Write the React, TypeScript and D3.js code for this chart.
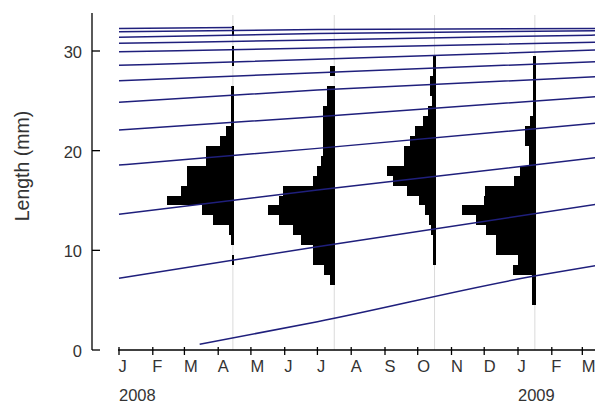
import React, { useRef, useEffect } from 'react';
import * as d3 from 'd3';

// axis labels
const monthLetters = ["J", "F", "M", "A", "M", "J", "J", "A", "S", "O", "N", "D", "J", "F", "M"];
const yearLabels = ["2008", "2009"];
const yearDates = ["2008-01-01", "2009-01-01"];
const yTicks = [0, 10, 20, 30];

// growth curves (mm), read at these dates
const curveDates = ["2008-01-01", "2008-07-01", "2009-03-13"];
const cohortLengths = [
    [31.94, 32.15, 32.27],
    [31.37, 31.75, 32.04],
    [30.77, 31.1, 31.6],
    [29.93, 30.3, 30.87],
    [28.56, 29.16, 30.1],
    [27.02, 27.82, 28.93],
    [24.85, 26.09, 27.42],
    [22.07, 23.41, 25.41],
    [18.56, 20.23, 22.75],
    [13.61, 16.05, 19.29],
    [7.2, 10.37, 14.6],
];
const oldCohortDates = ["2008-01-01", "2008-04-14"];
const oldCohortLengths = [32.27, 32.35];
const recruitDates = ["2008-03-15", "2008-07-01", "2009-01-16", "2009-03-13"];
const recruitLengths = [0.57, 2.84, 7.42, 8.46];

// length-frequency samples
const sampleDates = ["2008-04-14", "2008-07-16", "2008-10-16", "2009-01-16"];
const lengthBins = [5, 6, 7, 8, 9, 10, 11, 12, 13, 14, 15, 16, 17, 18, 19, 20, 21, 22, 23, 24, 25, 26, 27, 28, 29, 30, 31, 32];
const freqApr = [0, 0, 0, 0, 0.4, 0, 0.8, 1.4, 5.7, 8.8, 18.5, 14.6, 12.9, 12.9, 7.8, 7.8, 3.9, 2.2, 0.9, 0.7, 0.7, 0.7, 0, 0, 0.4, 0.4, 0, 0.4];
const freqJul = [0, 0, 1.6, 3.0, 6.2, 6.2, 9.6, 11.8, 15.5, 18.7, 15.5, 14.4, 6.2, 5.0, 4.1, 3.4, 3.4, 3.4, 3.4, 3.4, 2.2, 2.2, 0, 1.6, 0, 0, 0, 0];
const freqOct = [0, 0, 0, 0, 0.8, 0.8, 0.8, 1.3, 1.9, 3.0, 4.7, 7.8, 11.8, 13.4, 8.8, 8.8, 7.2, 5.6, 3.4, 2.2, 1.1, 1.6, 1.6, 0.7, 0.7, 0, 0, 0];
const freqJan = [1.0, 1.0, 1.0, 6.3, 5.0, 11.1, 11.1, 13.9, 16.5, 20.6, 14.4, 14.2, 6.0, 4.4, 1.9, 1.9, 3.1, 3.1, 1.7, 0.8, 0.7, 0.7, 0.7, 0.7, 0.7, 0, 0, 0];
const sampleFreqs = [freqApr, freqJul, freqOct, freqJan];

const App = () => {
    const svgref = useRef(null);
    const width = 595, height = 403;

    useEffect(() => {
        const svg = d3.select(svgref.current);
        svg.selectAll("*").remove();

        const parse = d3.utcParse("%Y-%m-%d");
        const x = d3.scaleUtc()
            .domain([parse("2008-01-01"), parse("2009-01-01")])
            .range([119, 518]);
        const y = d3.scaleLinear().domain([0, 30]).range([350, 51]);
        const w = d3.scaleLinear().domain([0, 10]).range([0, 36]);
        const font = "'Liberation Sans', Arial, sans-serif";
        const navy = "#1f1f7c";

        svg.append("rect").attr("width", width).attr("height", height).attr("fill", "#fff");

        // faint lines at the sampling dates
        svg.append("g").selectAll("line")
            .data(sampleDates)
            .join("line")
            .attr("x1", d => x(parse(d)) + 0.5)
            .attr("x2", d => x(parse(d)) + 0.5)
            .attr("y1", 15)
            .attr("y2", 350)
            .attr("stroke", "#dadada")
            .attr("stroke-width", 1);

        // histograms, bars grow to the left of the sample date
        sampleDates.forEach((date, i) => {
            const x0 = x(parse(date)) + 1.5;
            const bars = lengthBins
                .map((b, j) => ({ b, f: sampleFreqs[i][j] }))
                .filter(d => d.f > 0);
            svg.append("g")
                .attr("shape-rendering", "crispEdges")
                .selectAll("rect")
                .data(bars)
                .join("rect")
                .attr("x", d => x0 - Math.max(w(d.f), 2))
                .attr("y", d => y(d.b + 0.5))
                .attr("width", d => Math.max(w(d.f), 2))
                .attr("height", d => y(d.b - 0.5) - y(d.b + 0.5))
                .attr("fill", "#000");
        });

        // growth curves
        const line = d3.line()
            .x(d => x(parse(d[0])))
            .y(d => y(d[1]))
            .curve(d3.curveMonotoneX);
        const curves = cohortLengths.map(vals => curveDates.map((d, k) => [d, vals[k]]));
        curves.push(oldCohortDates.map((d, k) => [d, oldCohortLengths[k]]));
        curves.push(recruitDates.map((d, k) => [d, recruitLengths[k]]));
        svg.append("g").selectAll("path")
            .data(curves)
            .join("path")
            .attr("d", d => line(d))
            .attr("fill", "none")
            .attr("stroke", navy)
            .attr("stroke-width", 1.5);

        // y axis
        const ya = svg.append("g");
        ya.append("line")
            .attr("x1", 92).attr("x2", 92).attr("y1", 13).attr("y2", 350)
            .attr("stroke", "#000").attr("stroke-width", 1.3);
        ya.selectAll(".tk").data(yTicks).join("line")
            .attr("class", "tk")
            .attr("x1", 92).attr("x2", 100)
            .attr("y1", d => y(d)).attr("y2", d => y(d))
            .attr("stroke", "#000").attr("stroke-width", 1.3);
        ya.selectAll("text").data(yTicks).join("text")
            .attr("x", 82)
            .attr("y", d => y(d) + 7)
            .attr("text-anchor", "end")
            .attr("font-family", font)
            .attr("font-size", 16.5)
            .attr("fill", "#333")
            .text(d => d);

        // x axis
        const monthTicks = d3.utcMonth.range(parse("2008-01-01"), parse("2009-03-02"));
        const xa = svg.append("g");
        xa.append("line")
            .attr("x1", 118).attr("x2", width).attr("y1", 350).attr("y2", 350)
            .attr("stroke", "#000").attr("stroke-width", 1.3);
        xa.selectAll(".tk").data(monthTicks).join("line")
            .attr("class", "tk")
            .attr("x1", d => x(d)).attr("x2", d => x(d))
            .attr("y1", 347).attr("y2", 355)
            .attr("stroke", "#000").attr("stroke-width", 1.3);
        xa.selectAll(".ml").data(monthTicks).join("text")
            .attr("class", "ml")
            .attr("x", d => x(d) - 0.5)
            .attr("y", 372)
            .attr("font-family", font)
            .attr("font-size", 16.5)
            .attr("fill", "#333")
            .text((d, i) => monthLetters[i]);
        xa.selectAll(".yl").data(yearDates).join("text")
            .attr("class", "yl")
            .attr("x", d => x(parse(d)))
            .attr("y", 401)
            .attr("font-family", font)
            .attr("font-size", 16.5)
            .attr("fill", "#333")
            .text((d, i) => yearLabels[i]);

        // y label
        svg.append("text")
            .attr("transform", "translate(29,166) rotate(-90)")
            .attr("text-anchor", "middle")
            .attr("font-family", font)
            .attr("font-size", 19.5)
            .attr("fill", "#333")
            .text("Length (mm)");
    }, []);

    return (
        <svg ref={svgref} width={width} height={height}
            style={{ position: "absolute", left: 0, top: 0 }} />
    );
};

export default App;
